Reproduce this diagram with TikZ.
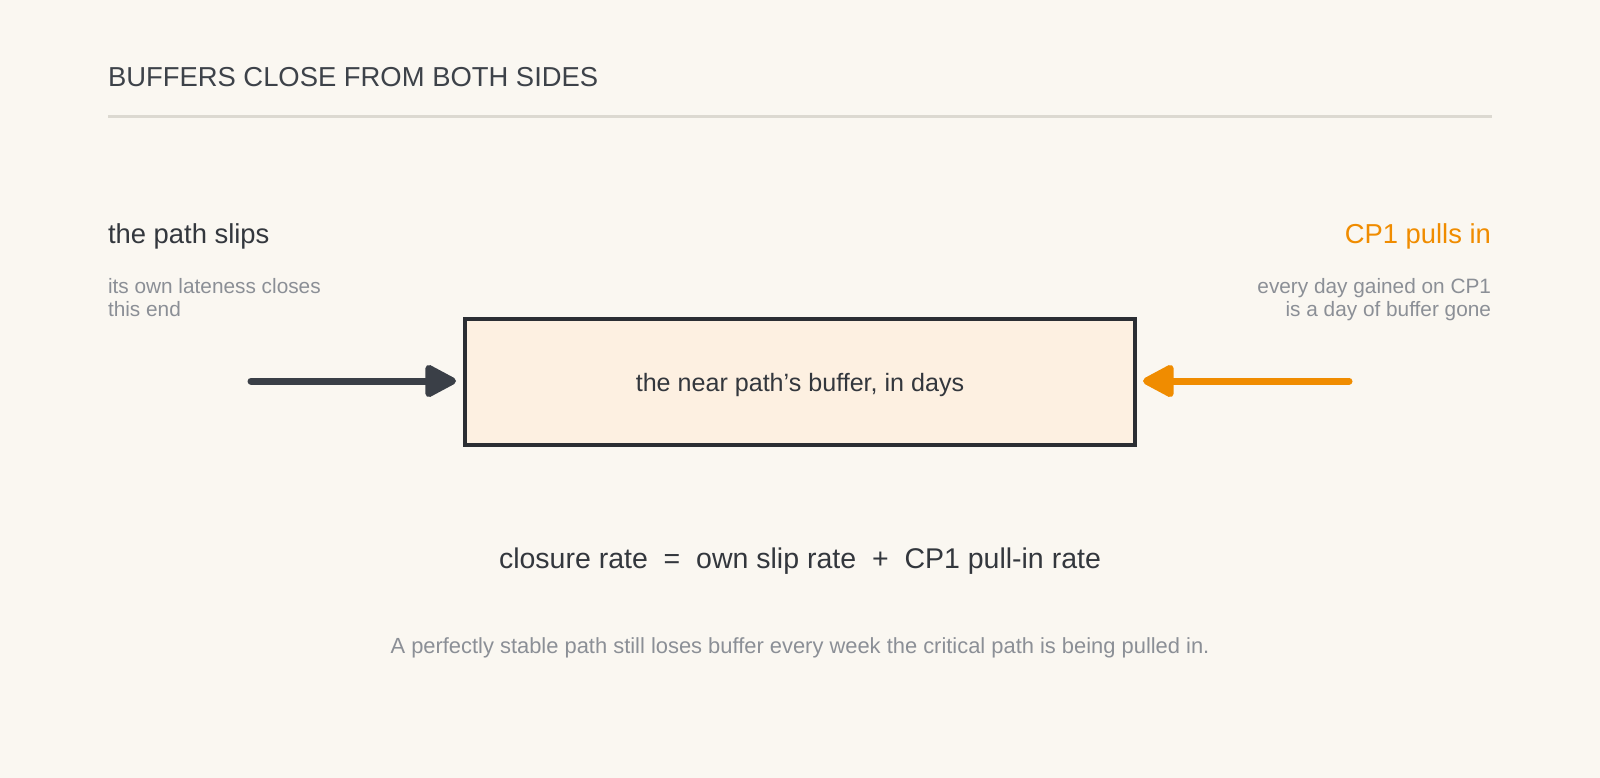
\documentclass[tikz,border=0pt]{standalone}
\usepackage{fontspec}
\setmainfont{Liberation Sans}
\usetikzlibrary{arrows.meta}
\definecolor{bg}{HTML}{FAF7F1}
\definecolor{ink}{HTML}{33373D}
\definecolor{titleink}{HTML}{3D4249}
\definecolor{muted}{HTML}{8B8F96}
\definecolor{accent}{HTML}{F08C00}
\definecolor{boxfill}{HTML}{FDF0E1}
\definecolor{boxline}{HTML}{2B2E33}
\definecolor{arrowdark}{HTML}{3A3F47}
\definecolor{rulecol}{HTML}{DCD9D1}
\tikzset{
  txt/.style={inner sep=0pt, outer sep=0pt},
  titletxt/.style={txt, text=titleink, font=\fontsize{27.4}{32}\selectfont},
  headtxt/.style={txt, text=ink, font=\fontsize{27.4}{32}\selectfont},
  subtxt/.style={txt, text=muted, font=\fontsize{20.8}{24}\selectfont},
  foottxt/.style={txt, text=muted, font=\fontsize{21.9}{26}\selectfont},
  bufbox/.style={draw=boxline, line width=4pt, fill=boxfill, minimum width=670pt, minimum height=126pt, inner sep=0pt, text depth=0pt, text=ink, font=\fontsize{25.1}{30}\selectfont},
  push/.style={line width=7pt, line cap=round, -{Triangle[length=35pt,width=35pt,round]}},
}
\begin{document}
\begin{tikzpicture}[x=1pt,y=-1pt]
\useasboundingbox (0,0) rectangle (1600,778);
\fill[bg] (0,0) rectangle (1600,778);
% title and rule
\node[titletxt, anchor=base west] (title) at (108,86.5) {BUFFERS CLOSE FROM BOTH SIDES};
\coordinate (ruleL) at (108,116.3);
\coordinate (ruleR) at (1492,116.3);
\draw[rulecol, line width=2.5pt] (ruleL) -- (ruleR);
% left side labels
\node[headtxt, anchor=base west] (lhead) at (108,243.5) {the path slips};
\node[subtxt, anchor=base west] (lsub1) at (108,293) {its own lateness closes};
\node[subtxt, anchor=base west] (lsub2) at (108,316.5) {this end};
% right side labels
\node[headtxt, anchor=base east, text=accent] (rhead) at (1491,243.5) {CP1 pulls in};
\node[subtxt, anchor=base east] (rsub1) at (1491,293) {every day gained on CP1};
\node[subtxt, anchor=base east] (rsub2) at (1491,316.5) {is a day of buffer gone};
% box
\node[bufbox] (buf) at (800,382) {the near path’s buffer, in days};
% arrows
\coordinate (lstart) at (251,381);
\coordinate (rstart) at (1349,381);
\draw[push, arrowdark, shorten >=7pt] (lstart) -- (lstart -| buf.west);
\draw[push, accent, shorten >=6pt] (rstart) -- (rstart -| buf.east);
% formula and footnote
\node[txt, anchor=base, text=ink, font=\fontsize{28.5}{34}\selectfont] (formula) at (800,568.5) {closure rate~~=~~own slip rate~~+~~CP1 pull-in rate};
\node[foottxt, anchor=base] (foot) at (800,653) {A perfectly stable path still loses buffer every week the critical path is being pulled in.};
\end{tikzpicture}
\end{document}
